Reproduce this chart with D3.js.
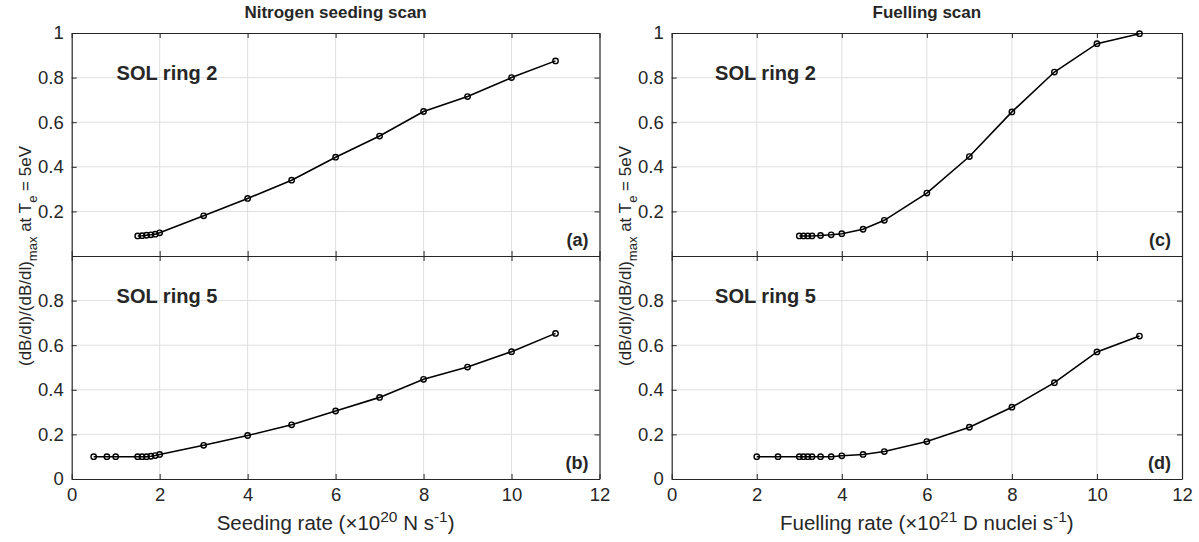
<!DOCTYPE html>
<html>
<head>
<meta charset="utf-8">
<script src="https://cdn.jsdelivr.net/npm/d3@7"></script>
<style>
  body { margin: 0; background: #fff; }
  text { font-family: "Liberation Sans", Arial, sans-serif; fill: #262626; }
</style>
</head>
<body>
<div id="chart"></div>
<script>
// nitrogen seeding scan (x in 1e20 N/s)
const seedRing2X = [1.5, 1.6, 1.7, 1.8, 1.9, 2, 3, 4, 5, 6, 7, 8, 9, 10, 11];
const seedRing2Y = [0.09, 0.091, 0.093, 0.095, 0.098, 0.104, 0.18, 0.258, 0.34, 0.443, 0.538, 0.648, 0.715, 0.8, 0.875];
const seedRing5X = [0.5, 0.8, 1, 1.5, 1.6, 1.7, 1.8, 1.9, 2, 3, 4, 5, 6, 7, 8, 9, 10, 11];
const seedRing5Y = [0.1, 0.1, 0.1, 0.1, 0.1, 0.1, 0.102, 0.105, 0.11, 0.151, 0.195, 0.243, 0.305, 0.366, 0.447, 0.502, 0.571, 0.653];

// fuelling scan (x in 1e21 D/s)
const fuelRing2X = [3, 3.1, 3.2, 3.3, 3.5, 3.75, 4, 4.5, 5, 6, 7, 8, 9, 10, 11];
const fuelRing2Y = [0.09, 0.09, 0.09, 0.09, 0.092, 0.095, 0.1, 0.12, 0.16, 0.282, 0.446, 0.646, 0.825, 0.952, 0.997];
const fuelRing5X = [2, 2.5, 3, 3.1, 3.2, 3.3, 3.5, 3.75, 4, 4.5, 5, 6, 7, 8, 9, 10, 11];
const fuelRing5Y = [0.1, 0.1, 0.1, 0.1, 0.1, 0.1, 0.1, 0.1, 0.104, 0.11, 0.123, 0.168, 0.232, 0.322, 0.432, 0.57, 0.641];

const xTicks = [0, 2, 4, 6, 8, 10, 12];
const upperYTicks = [0.2, 0.4, 0.6, 0.8, 1];
const lowerYTicks = [0, 0.2, 0.4, 0.6, 0.8];

const titles = ["Nitrogen seeding scan", "Fuelling scan"];
const ringLabels = ["SOL ring 2", "SOL ring 5"];
const panelTags = [["(a)", "(b)"], ["(c)", "(d)"]];

const W = 1199, H = 542;
const yTop = 33, yMid = 256, yBot = 479;
const cols = [{ x0: 71.7, x1: 599.5 }, { x0: 671.7, x1: 1182 }];

const svg = d3.select("#chart").append("svg")
  .attr("width", W)
  .attr("height", H);

const datasets = [
  [[seedRing2X, seedRing2Y], [seedRing5X, seedRing5Y]],
  [[fuelRing2X, fuelRing2Y], [fuelRing5X, fuelRing5Y]]
];

cols.forEach((c, ci) => {
  const x = d3.scaleLinear().domain([0, 12]).range([c.x0, c.x1]);

  [0, 1].forEach(ri => {
    const y0 = ri === 0 ? yTop : yMid;
    const y1 = ri === 0 ? yMid : yBot;
    const y = d3.scaleLinear().domain([0, 1]).range([y1, y0]);
    const yTicks = ri === 0 ? upperYTicks : lowerYTicks;
    const g = svg.append("g");

    // grid
    g.selectAll(".gx").data(xTicks.slice(1, -1)).join("line")
      .attr("x1", d => x(d)).attr("x2", d => x(d))
      .attr("y1", y0).attr("y2", y1)
      .attr("stroke", "#dfdfdf").attr("stroke-width", 1);
    g.selectAll(".gy").data([0.2, 0.4, 0.6, 0.8]).join("line")
      .attr("x1", c.x0).attr("x2", c.x1)
      .attr("y1", d => y(d)).attr("y2", d => y(d))
      .attr("stroke", "#dfdfdf").attr("stroke-width", 1);

    // axes, ticks pointing inward
    const left = g.append("g").attr("transform", `translate(${c.x0},0)`)
      .call(d3.axisLeft(y).tickValues(yTicks).tickFormat(d3.format("~g"))
        .tickSizeInner(-5).tickSizeOuter(0).tickPadding(8));
    const right = g.append("g").attr("transform", `translate(${c.x1},0)`)
      .call(d3.axisRight(y).tickValues(yTicks).tickFormat("")
        .tickSizeInner(-5).tickSizeOuter(0));
    const topAx = g.append("g").attr("transform", `translate(0,${y0})`)
      .call(d3.axisTop(x).tickValues(xTicks).tickFormat("")
        .tickSizeInner(-5).tickSizeOuter(0));
    const botAx = g.append("g").attr("transform", `translate(0,${y1})`)
      .call(d3.axisBottom(x).tickValues(xTicks)
        .tickFormat(ri === 1 ? d3.format("d") : "")
        .tickSizeInner(-5).tickSizeOuter(0).tickPadding(9));

    [left, right, topAx, botAx].forEach(a => {
      a.selectAll("line").attr("stroke", "#262626");
      a.select(".domain").attr("stroke", "#262626").attr("stroke-width", 1.2);
      a.selectAll("text").style("font-size", "18.5px").attr("fill", "#262626");
    });

    // series
    const [xs, ys] = datasets[ci][ri];
    const pts = xs.map((v, i) => [v, ys[i]]);
    g.append("path")
      .datum(pts)
      .attr("fill", "none")
      .attr("stroke", "#000")
      .attr("stroke-width", 1.6)
      .attr("d", d3.line().x(d => x(d[0])).y(d => y(d[1])));
    g.selectAll("circle").data(pts).join("circle")
      .attr("cx", d => x(d[0]))
      .attr("cy", d => y(d[1]))
      .attr("r", 2.7)
      .attr("fill", "none")
      .attr("stroke", "#000")
      .attr("stroke-width", 1.4);

    g.append("text")
      .attr("x", x(1.02))
      .attr("y", y(0.79))
      .attr("fill", "#000")
      .style("font-size", "20px")
      .style("font-weight", "bold")
      .text(ringLabels[ri]);

    g.append("text")
      .attr("x", c.x1 - 11)
      .attr("y", y(0.045))
      .attr("text-anchor", "end")
      .attr("fill", "#000")
      .style("font-size", "18px")
      .style("font-weight", "bold")
      .text(panelTags[ci][ri]);
  });

  // title
  svg.append("text")
    .attr("x", (c.x0 + c.x1) / 2)
    .attr("y", 18)
    .attr("text-anchor", "middle")
    .attr("fill", "#000")
    .style("font-size", "17px")
    .style("font-weight", "bold")
    .text(titles[ci]);

  // y label
  const yl = svg.append("text")
    .attr("transform", `translate(${c.x0 - 41},${yMid}) rotate(-90)`)
    .attr("text-anchor", "middle")
    .style("font-size", "17px");
  yl.append("tspan").text("(dB/dl)/(dB/dl)");
  yl.append("tspan").attr("dy", 6).style("font-size", "13px").text("max");
  yl.append("tspan").attr("dy", -6).text(" at T");
  yl.append("tspan").attr("dy", 6).style("font-size", "13px").text("e");
  yl.append("tspan").attr("dy", -6).text(" = 5eV");

  // x label
  const xl = svg.append("text")
    .attr("x", (c.x0 + c.x1) / 2)
    .attr("y", 530)
    .attr("text-anchor", "middle")
    .style("font-size", "20.5px");
  xl.append("tspan").text(ci === 0 ? "Seeding rate (\u00d710" : "Fuelling rate (\u00d710");
  xl.append("tspan").attr("dy", -8).style("font-size", "15.5px").text(ci === 0 ? "20" : "21");
  xl.append("tspan").attr("dy", 8).text(ci === 0 ? " N s" : " D nuclei s");
  xl.append("tspan").attr("dy", -8).style("font-size", "15.5px").text("-1");
  xl.append("tspan").attr("dy", 8).text(")");
});
</script>
</body>
</html>
